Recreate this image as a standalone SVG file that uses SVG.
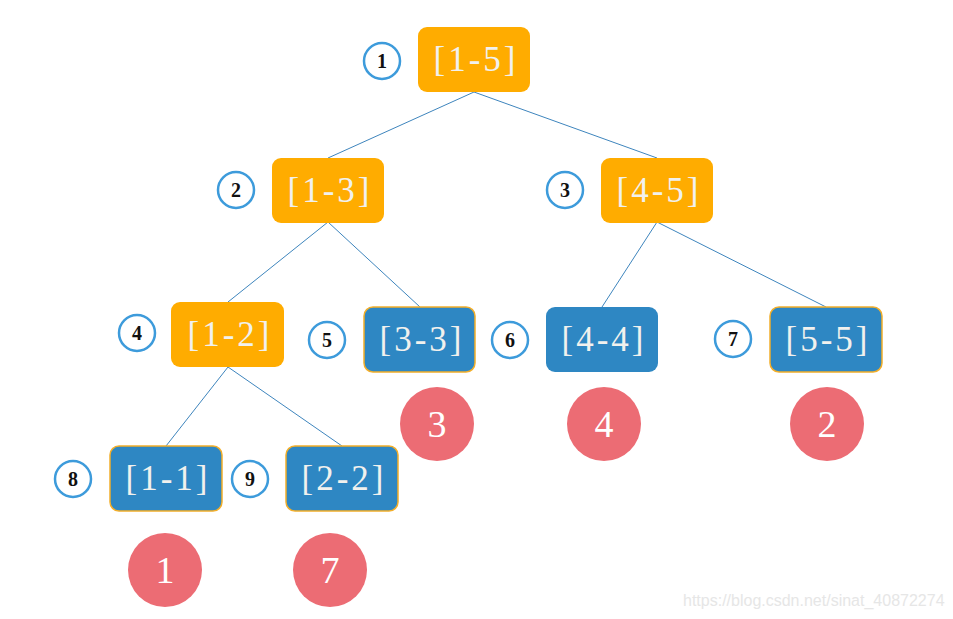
<svg xmlns="http://www.w3.org/2000/svg" width="953" height="619" viewBox="0 0 953 619">
<style>
.bg{fill:#ffffff}
.box-o{fill:#FFAC00}
.box-b{fill:#2E87C3}
.box-bo{fill:#2E87C3;stroke:#F2AE2A;stroke-width:1.5}
.lbl{font-family:"Liberation Serif",serif;font-size:35px;letter-spacing:3px;fill:#F1F1EE;text-anchor:middle;dominant-baseline:central}
.idx{fill:#ffffff;stroke:#3D9BDB;stroke-width:2.5}
.idxt{font-family:"Liberation Serif",serif;font-size:20px;font-weight:bold;fill:#111;text-anchor:middle;dominant-baseline:central}
.val{fill:#EC6C74}
.valt{font-family:"Liberation Serif",serif;font-size:38px;fill:#ffffff;text-anchor:middle;dominant-baseline:central}
.edge{stroke:#3E85BD;stroke-width:1;fill:none}
.wm{font-family:"Liberation Sans",Arial,sans-serif;font-size:16px;fill:#E6E6E6}
</style>
<rect class="bg" x="0" y="0" width="953" height="619"/>
<g id="connectors">
<line class="edge" x1="474" y1="92" x2="328" y2="158"/>
<line class="edge" x1="474" y1="92" x2="657" y2="158"/>
<line class="edge" x1="328" y1="222" x2="228" y2="302"/>
<line class="edge" x1="328" y1="222" x2="420" y2="307"/>
<line class="edge" x1="657" y1="222" x2="602" y2="307"/>
<line class="edge" x1="657" y1="222" x2="826" y2="307"/>
<line class="edge" x1="228" y1="367" x2="166" y2="446"/>
<line class="edge" x1="228" y1="367" x2="342" y2="446"/>
</g>
<g id="n1">
<circle class="idx" cx="382" cy="61" r="18"/><text class="idxt" x="382" y="61">1</text>
<rect class="box-o" x="418" y="27" width="112" height="65" rx="9"/><text class="lbl" x="476" y="59">[1-5]</text>
</g>
<g id="n2">
<circle class="idx" cx="236" cy="190" r="18"/><text class="idxt" x="236" y="190">2</text>
<rect class="box-o" x="272" y="158" width="112" height="65" rx="9"/><text class="lbl" x="330" y="190">[1-3]</text>
</g>
<g id="n3">
<circle class="idx" cx="565" cy="190" r="18"/><text class="idxt" x="565" y="190">3</text>
<rect class="box-o" x="601" y="158" width="112" height="65" rx="9"/><text class="lbl" x="659" y="190">[4-5]</text>
</g>
<g id="n4">
<circle class="idx" cx="137" cy="333" r="18"/><text class="idxt" x="137" y="333">4</text>
<rect class="box-o" x="171" y="302" width="113" height="65" rx="9"/><text class="lbl" x="230" y="334">[1-2]</text>
</g>
<g id="n5">
<circle class="idx" cx="327" cy="340" r="18"/><text class="idxt" x="327" y="340">5</text>
<rect class="box-bo" x="364" y="307" width="111" height="65" rx="9"/><text class="lbl" x="422" y="339">[3-3]</text>
<circle class="val" cx="437" cy="424" r="37"/><text class="valt" x="437" y="424">3</text>
</g>
<g id="n6">
<circle class="idx" cx="510" cy="340" r="18"/><text class="idxt" x="510" y="340">6</text>
<rect class="box-b" x="546" y="307" width="112" height="65" rx="9"/><text class="lbl" x="604" y="339">[4-4]</text>
<circle class="val" cx="604" cy="424" r="37"/><text class="valt" x="604" y="424">4</text>
</g>
<g id="n7">
<circle class="idx" cx="733" cy="339" r="18"/><text class="idxt" x="733" y="339">7</text>
<rect class="box-bo" x="770" y="307" width="112" height="65" rx="9"/><text class="lbl" x="828" y="339">[5-5]</text>
<circle class="val" cx="827" cy="424" r="37"/><text class="valt" x="827" y="424">2</text>
</g>
<g id="n8">
<circle class="idx" cx="73" cy="479" r="18"/><text class="idxt" x="73" y="479">8</text>
<rect class="box-bo" x="110" y="446" width="112" height="65" rx="9"/><text class="lbl" x="168" y="478">[1-1]</text>
<circle class="val" cx="165" cy="570" r="37"/><text class="valt" x="165" y="570">1</text>
</g>
<g id="n9">
<circle class="idx" cx="250" cy="479" r="18"/><text class="idxt" x="250" y="479">9</text>
<rect class="box-bo" x="286" y="446" width="112" height="65" rx="9"/><text class="lbl" x="344" y="478">[2-2]</text>
<circle class="val" cx="330" cy="570" r="37"/><text class="valt" x="330" y="570">7</text>
</g>
<text class="wm" x="683" y="606">https://blog.csdn.net/sinat_40872274</text>
</svg>
